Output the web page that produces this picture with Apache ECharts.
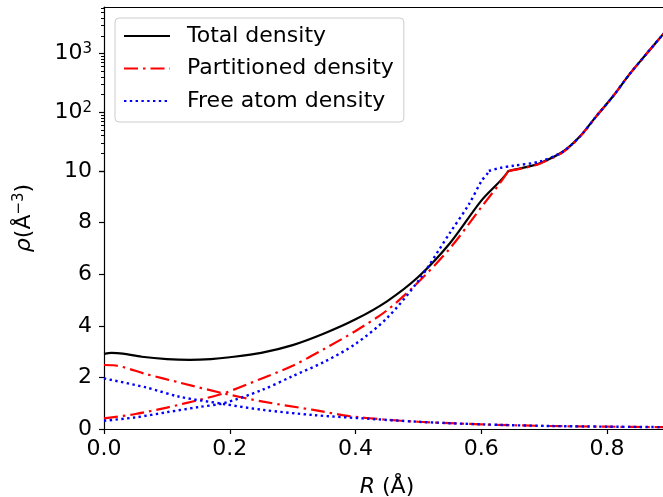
<!DOCTYPE html>
<html>
<head>
<meta charset="utf-8">
<script src="https://cdn.jsdelivr.net/npm/echarts@6/dist/echarts.min.js"></script>
<style>
    html, body { margin: 0; padding: 0; background: #fff; }
    #main { width: 663px; height: 497px; }
</style>
</head>
<body>
<div id="main"></div>
<script>
// R (Å) / rho (Å^-3)
var totalR = [0, 0.012, 0.03, 0.06, 0.1, 0.136, 0.17, 0.2, 0.25, 0.3, 0.35, 0.4, 0.45, 0.5, 0.55, 0.6, 0.643, 0.667, 0.693, 0.73, 0.757, 0.783, 0.81, 0.836, 0.863, 0.888, 0.9];
var total  = [2.91, 2.95, 2.92, 2.8, 2.71, 2.68, 2.71, 2.78, 2.95, 3.25, 3.7, 4.25, 4.95, 5.9, 7.2, 8.85, 10, 11.4, 13.6, 21.5, 39, 86, 191, 450, 1000, 2070, 2900];

var partRiseR = [0, 0.05, 0.1, 0.15, 0.19, 0.25, 0.3, 0.35, 0.4, 0.45, 0.5, 0.55, 0.6, 0.643, 0.667, 0.693, 0.73, 0.757, 0.783, 0.81, 0.836, 0.863, 0.888, 0.9];
var partRise  = [0.41, 0.58, 0.83, 1.12, 1.38, 1.95, 2.45, 3.1, 3.8, 4.6, 5.7, 7.0, 8.6, 10, 11.2, 13.3, 21, 38.5, 86, 191, 450, 1000, 2070, 2900];
var partFallR = [0, 0.015, 0.067, 0.12, 0.19, 0.253, 0.333, 0.39, 0.444, 0.5, 0.6, 0.7, 0.8, 0.9];
var partFall  = [2.48, 2.47, 2.13, 1.8, 1.38, 1.06, 0.74, 0.5, 0.37, 0.28, 0.18, 0.12, 0.09, 0.07];

var freeRiseR = [0, 0.05, 0.1, 0.15, 0.19, 0.25, 0.3, 0.35, 0.4, 0.45, 0.5, 0.55, 0.58, 0.6, 0.612, 0.63, 0.651, 0.693, 0.73, 0.757, 0.783, 0.81, 0.836, 0.863, 0.888, 0.9];
var freeRise  = [0.32, 0.45, 0.65, 0.85, 1.0, 1.5, 2.05, 2.6, 3.3, 4.3, 5.75, 7.6, 8.7, 9.6, 10, 11.3, 12.3, 14.5, 21.5, 39, 86, 191, 450, 1000, 2070, 2900];
var freeFallR = [0, 0.067, 0.12, 0.19, 0.253, 0.333, 0.412, 0.5, 0.6, 0.7, 0.8, 0.9];
var freeFall  = [1.96, 1.61, 1.25, 0.97, 0.74, 0.54, 0.41, 0.28, 0.18, 0.12, 0.09, 0.07];

var xTicks = [0, 0.2, 0.4, 0.6, 0.8];
var yTicksLin = [0, 2, 4, 6, 8, 10];
var yTicksLog = [10, 100, 1000];
var yMinorLog = [20, 30, 40, 50, 60, 70, 80, 90, 200, 300, 400, 500, 600, 700, 800, 900, 2000, 3000, 4000, 5000, 6000];

var FONT = 'DejaVu Sans';
var SPLIT = 10; // 线性/对数分界
var chart = echarts.init(document.getElementById('main'));

function pairs(xs, ys) {
    return xs.map(function (x, i) { return [x, ys[i]]; });
}

var lines = [
    { name: 'Total density', r: totalR, v: total, color: '#000000', type: 'solid', width: 2.2 },
    { name: 'Partitioned density', r: partRiseR, v: partRise, color: '#ff0000', type: [14, 5, 2.5, 5], width: 2.2 },
    { name: 'Partitioned density', r: partFallR, v: partFall, color: '#ff0000', type: [14, 5, 2.5, 5], width: 2.2 },
    { name: 'Free atom density', r: freeRiseR, v: freeRise, color: '#0000ff', type: [2.4, 3.4], width: 2.4 },
    { name: 'Free atom density', r: freeFallR, v: freeFall, color: '#0000ff', type: [2.4, 3.4], width: 2.4 }
];

// 每条线画两次：下半部分线性(0-10)，上半部分对数(10以上)
var series = [];
[0, 1].forEach(function (g) {
    lines.forEach(function (l) {
        var data = pairs(l.r, l.v);
        if (g === 1) {
            data = data.filter(function (d) { return d[1] >= SPLIT; });
            if (!data.length) return;
        }
        series.push({
            name: l.name,
            type: 'line',
            xAxisIndex: g,
            yAxisIndex: g,
            data: data,
            symbol: 'none',
            showSymbol: false,
            smooth: 0.3,
            clip: true,
            lineStyle: { color: l.color, type: l.type, width: l.width },
            itemStyle: { color: l.color }
        });
    });
});

var tickLabel = { color: '#000', fontSize: 22, fontFamily: FONT };

chart.setOption({
    animation: false,
    backgroundColor: '#fff',
    grid: [
        { left: 104, right: -7, top: 171, bottom: 68, outerBoundsMode: 'none' },
        { left: 104, right: -7, top: 7, height: 164, outerBoundsMode: 'none' },
        { left: 104, right: -7, top: 7, bottom: 68, outerBoundsMode: 'none' }
    ],
    legend: {
        data: ['Total density', 'Partitioned density', 'Free atom density'],
        orient: 'vertical',
        left: 115,
        top: 18,
        itemWidth: 46,
        itemHeight: 22,
        itemGap: 10.5,
        padding: [7, 10, 10, 8],
        backgroundColor: '#fff',
        borderColor: '#cccccc',
        borderWidth: 1,
        borderRadius: 4,
        selectedMode: false,
        itemStyle: { opacity: 0 },
        textStyle: { color: '#000', fontSize: 22, fontFamily: FONT, lineHeight: 22, padding: [0, 0, 0, 12] }
    },
    xAxis: [
        {
            gridIndex: 0, type: 'value', min: 0, max: 0.9,
            axisLine: { lineStyle: { color: '#000', width: 1.2 } },
            axisTick: { length: 5, lineStyle: { color: '#000', width: 1.2 }, customValues: xTicks },
            axisLabel: Object.assign({ margin: 9, customValues: xTicks, formatter: function (v) { return v.toFixed(1); } }, tickLabel),
            splitLine: { show: false },
            name: '{it|R} (Å)',
            nameLocation: 'middle',
            nameGap: 47,
            nameTextStyle: { color: '#000', fontSize: 22, fontFamily: FONT, rich: { it: { fontStyle: 'italic', fontSize: 22, fontFamily: FONT } } }
        },
        {
            gridIndex: 1, type: 'value', min: 0, max: 0.9, position: 'top',
            axisLine: { lineStyle: { color: '#000', width: 1.2 } },
            axisTick: { show: false }, axisLabel: { show: false }, splitLine: { show: false }
        },
        { gridIndex: 2, type: 'value', min: 0, max: 0.9, show: false }
    ],
    yAxis: [
        {
            gridIndex: 0, type: 'value', min: 0, max: SPLIT, interval: 2, position: 'left',
            axisLine: { lineStyle: { color: '#000', width: 1.2 } },
            axisTick: { length: 5, lineStyle: { color: '#000', width: 1.2 } },
            axisLabel: Object.assign({ margin: 12, customValues: yTicksLin }, tickLabel),
            splitLine: { show: false }
        },
        {
            gridIndex: 1, type: 'log', logBase: 10, min: SPLIT, max: 6200, position: 'left',
            axisLine: { lineStyle: { color: '#000', width: 1.2 } },
            axisTick: { length: 5, lineStyle: { color: '#000', width: 1.2 }, customValues: yTicksLog },
            axisLabel: Object.assign({
                margin: 12,
                customValues: yTicksLog.slice(1),
                formatter: function (v) {
                    return '10{sup|' + Math.round(Math.log10(v)) + '}';
                },
                rich: { sup: { fontSize: 15, fontFamily: FONT, color: '#000', verticalAlign: 'top', padding: [0, 0, 9, 0] } }
            }, tickLabel),
            splitLine: { show: false },
            minorTick: { show: false }
        },
        {
            gridIndex: 2, type: 'value', min: 0, max: 1, position: 'left',
            axisLine: { show: false }, axisTick: { show: false }, axisLabel: { show: false }, splitLine: { show: false },
            name: '{it|ρ}(Å{sup|−3})',
            nameLocation: 'middle',
            nameRotate: 90,
            nameGap: 68,
            nameTextStyle: {
                color: '#000', fontSize: 22, fontFamily: FONT,
                rich: {
                    it: { fontStyle: 'italic', fontSize: 22, fontFamily: FONT },
                    sup: { fontSize: 15, fontFamily: FONT, verticalAlign: 'top', padding: [0, 0, 9, 0] }
                }
            }
        },
        {
            // 对数部分的次刻度
            gridIndex: 1, type: 'log', logBase: 10, min: SPLIT, max: 6200, position: 'left',
            axisLine: { show: false },
            axisTick: { length: 3, lineStyle: { color: '#000', width: 1 }, customValues: yMinorLog },
            axisLabel: { show: false },
            splitLine: { show: false }
        }
    ],
    series: series
});
</script>
</body>
</html>
